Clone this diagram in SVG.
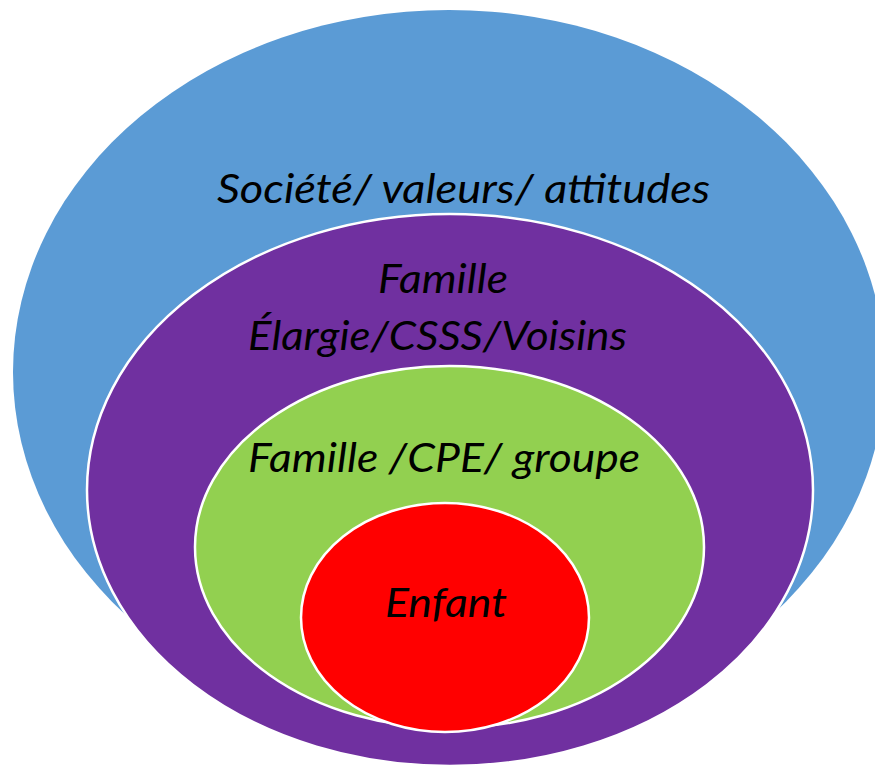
<svg xmlns="http://www.w3.org/2000/svg" width="875" height="767" viewBox="0 0 875 767">
<style>
.lbl{font-family:Lato,"Open Sans","Liberation Sans",sans-serif;font-style:italic;font-size:41px;fill:#000}
.ring{stroke:#fff;stroke-width:2.5}
</style>
<rect width="875" height="767" fill="#fff"/>
<g id="societe">
<ellipse cx="449" cy="372" rx="436" ry="362" fill="#5B9BD5"/>
<text class="lbl" x="217" y="203" textLength="493" lengthAdjust="spacingAndGlyphs">Société/ valeurs/ attitudes</text>
</g>
<g id="famille-elargie">
<ellipse class="ring" cx="450" cy="490" rx="363" ry="276" fill="#7030A0"/>
<text class="lbl" x="378" y="293" textLength="130" lengthAdjust="spacingAndGlyphs">Famille</text>
<text class="lbl" x="248" y="350" textLength="379" lengthAdjust="spacingAndGlyphs">Élargie/CSSS/Voisins</text>
</g>
<g id="famille-cpe">
<ellipse class="ring" cx="449.5" cy="547" rx="254.5" ry="181" fill="#92D050"/>
<text class="lbl" x="248" y="472" textLength="392" lengthAdjust="spacingAndGlyphs">Famille /CPE/ groupe</text>
</g>
<g id="enfant">
<ellipse class="ring" cx="445" cy="617.5" rx="144" ry="114.5" fill="#FF0000"/>
<text class="lbl" x="385" y="617" textLength="122" lengthAdjust="spacingAndGlyphs">Enfant</text>
</g>
<g id="connectors"/>
</svg>
